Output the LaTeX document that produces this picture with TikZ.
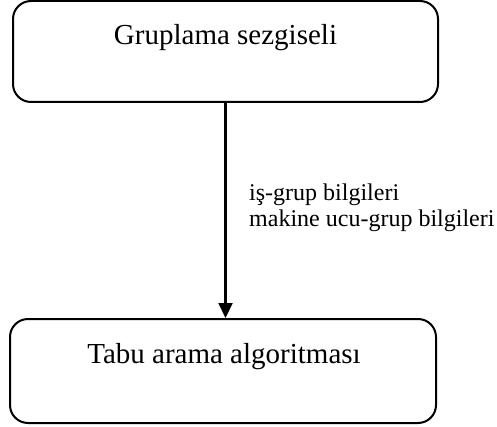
\documentclass[tikz,border=0pt]{standalone}
\usepackage{fontspec}
\setmainfont{Liberation Serif}
\usetikzlibrary{arrows.meta}
\begin{document}
\begin{tikzpicture}[x=1pt,y=-1pt,
  box/.style={draw,line width=2pt,rounded corners=18pt,inner sep=0pt},
  maintext/.style={font=\fontsize{29}{34}\selectfont,inner sep=0pt,anchor=base},
  flow/.style={line width=2.2pt,-{Triangle[length=15pt,width=14pt]}}]
\useasboundingbox (0,0) rectangle (497,427);
\node[box,minimum width=425pt,minimum height=101pt] (top) at (225.5,51.5) {};
\node[maintext] (toptext) at (225.5,45) {Gruplama sezgiseli};
\node[box,minimum width=426pt,minimum height=104pt] (bottom) at (223,371) {};
\node[maintext] (bottomtext) at (224,363) {Tabu arama algoritması};
\draw[flow] (top.south) -- (top.south |- bottom.north);
\node[font=\fontsize{24}{26}\selectfont,align=left,inner sep=0pt,anchor=base west] (lbl) at (249,227) {iş-grup bilgileri\\makine ucu-grup bilgileri};
\end{tikzpicture}
\end{document}
